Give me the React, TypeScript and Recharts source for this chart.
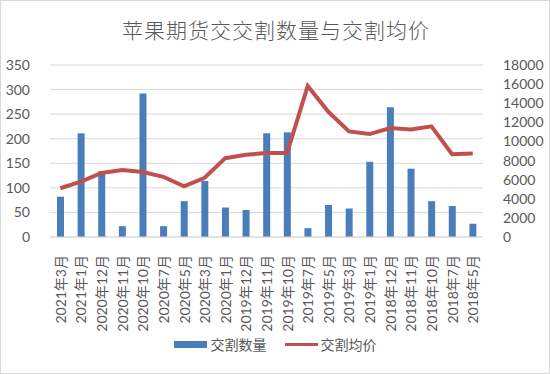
import React from 'react';
import { ComposedChart, Bar, Line, XAxis, YAxis, CartesianGrid, Legend } from 'recharts';

// Delivery months, newest first (as in the source sheet)
const months = [
  '2021年3月', '2021年1月', '2020年12月', '2020年11月', '2020年10月', '2020年7月', '2020年5月',
  '2020年3月', '2020年1月', '2019年12月', '2019年11月', '2019年10月', '2019年7月', '2019年5月',
  '2019年3月', '2019年1月', '2018年12月', '2018年11月', '2018年10月', '2018年7月', '2018年5月',
];

// 交割数量 (left axis)
const deliveryVolume = [82, 211, 134, 22, 292, 22, 73, 114, 60, 55, 211, 213, 18, 65, 58, 153, 264, 139, 73, 63, 27];

// 交割均价 (right axis)
const deliveryPrice = [
  5100, 5800, 6700, 7000, 6800, 6300, 5300, 6200, 8250, 8600, 8800, 8800, 15800, 13100,
  11050, 10770, 11400, 11260, 11580, 8670, 8740,
];

const leftTicks = [0, 50, 100, 150, 200, 250, 300, 350];
const rightTicks = [0, 2000, 4000, 6000, 8000, 10000, 12000, 14000, 16000, 18000];

const data = months.map((month, i) => ({
  month,
  volume: deliveryVolume[i],
  price: deliveryPrice[i],
}));

const FONT = 'Lato, "Noto Sans CJK SC", sans-serif';
const TEXT = '#595959';
const BLUE = '#4a7ebb';
const RED = '#c0504d';

// vertical month labels, read bottom-to-top
const MonthTick = (props: any) => {
  const { x, y, payload } = props;
  return (
    <text
      x={x}
      y={y}
      transform={`rotate(-90, ${x}, ${y})`}
      textAnchor="end"
      dominantBaseline="central"
      fill={TEXT}
      fontSize={14}
      fontFamily={FONT}
    >
      {payload.value}
    </text>
  );
};

const LegendContent = () => (
  <div style={{ display: 'flex', justifyContent: 'center', alignItems: 'center', fontFamily: FONT, fontSize: 14, color: TEXT }}>
    <span style={{ display: 'inline-block', width: 33, height: 7, background: BLUE, marginRight: 4 }} />
    <span style={{ marginRight: 18 }}>交割数量</span>
    <span style={{ display: 'inline-block', width: 33, height: 3, background: RED, marginRight: 3 }} />
    <span>交割均价</span>
  </div>
);

const App: React.FC = () => {
  return (
    <div
      style={{
        position: 'absolute',
        left: 0,
        top: 0,
        width: 550,
        height: 374,
        background: '#fff',
        border: '1px solid #d9d9d9',
        boxSizing: 'border-box',
      }}
    >
      <div
        style={{
          position: 'absolute',
          left: 0,
          top: 13,
          width: 550,
          textAlign: 'center',
          fontFamily: '"Noto Sans CJK SC", sans-serif',
          fontSize: 21,
          fontWeight: 300,
          color: TEXT,
          letterSpacing: 1,
        }}
      >
        苹果期货交交割数量与交割均价
      </div>
      <div style={{ position: 'absolute', left: -1, top: -1 }}>
        <ComposedChart width={550} height={374} data={data} margin={{ top: 65, right: 0, left: 0, bottom: 10 }}>
          <CartesianGrid yAxisId="left" vertical={false} stroke="#d9d9d9" />
          <XAxis
            dataKey="month"
            interval={0}
            height={97}
            tick={<MonthTick />}
            tickLine={false}
            tickMargin={12}
            axisLine={{ stroke: '#d9d9d9' }}
          />
          <YAxis
            yAxisId="left"
            width={50}
            domain={[0, 350]}
            ticks={leftTicks}
            interval={0}
            axisLine={false}
            tickLine={false}
            tickMargin={14}
            tick={{ fill: TEXT, fontSize: 14, fontFamily: FONT }}
          />
          <YAxis
            yAxisId="right"
            orientation="right"
            width={67}
            domain={[0, 18000]}
            ticks={rightTicks}
            interval={0}
            axisLine={false}
            tickLine={false}
            tickMargin={14}
            tick={{ fill: TEXT, fontSize: 14, fontFamily: FONT }}
          />
          <Legend verticalAlign="bottom" height={30} content={<LegendContent />} />
          <Bar yAxisId="left" dataKey="volume" name="交割数量" fill={BLUE} barSize={7} isAnimationActive={false} />
          <Line
            yAxisId="right"
            type="linear"
            dataKey="price"
            name="交割均价"
            stroke={RED}
            strokeWidth={4}
            dot={false}
            isAnimationActive={false}
          />
        </ComposedChart>
      </div>
    </div>
  );
};

export default App;
